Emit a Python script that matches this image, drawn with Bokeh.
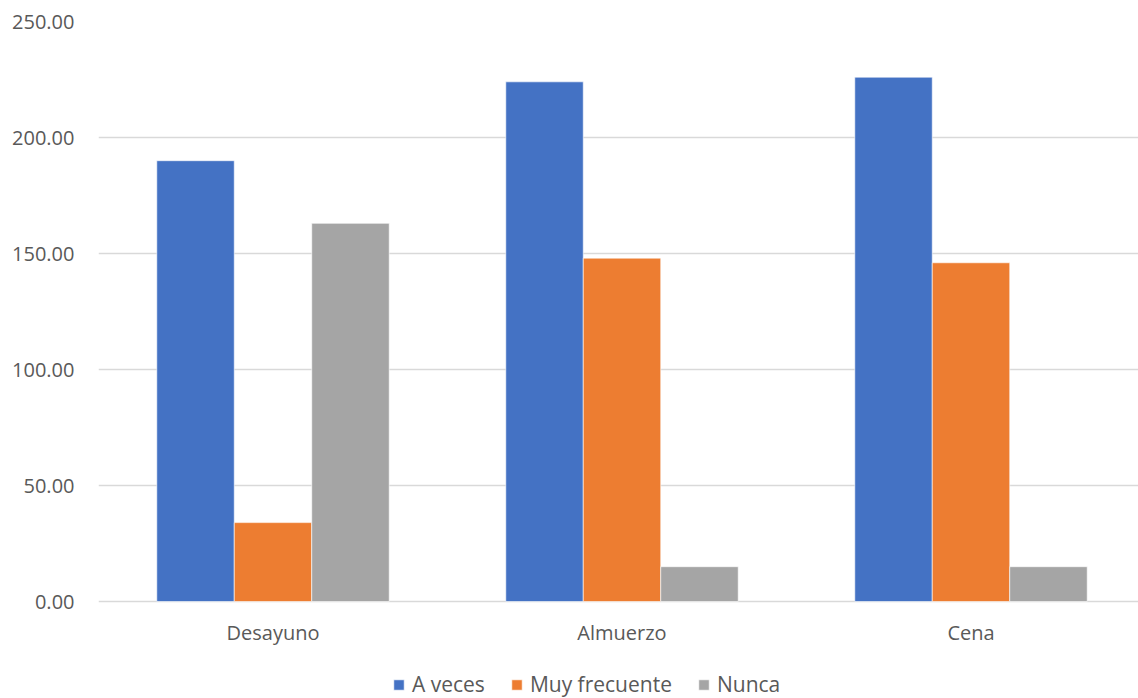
from bokeh.plotting import figure
from bokeh.models import (ColumnDataSource, FixedTicker, NumeralTickFormatter,
                          Range1d, Legend)
from bokeh.embed import file_html
from bokeh.resources import INLINE

# Meals and how often each is skipped / taken
categories = ["Desayuno", "Almuerzo", "Cena"]
series = ["A veces", "Muy frecuente", "Nunca"]
a_veces = [190, 224, 226]
muy_frecuente = [34, 148, 146]
nunca = [163, 15, 15]
y_ticks = [0, 50, 100, 150, 200, 250]

colors = ["#4472C4", "#ED7D31", "#A5A5A5"]
values = [a_veces, muy_frecuente, nunca]

FONT = "Open Sans"
TXT = "#595959"
GRID = "#D9D9D9"

centers = [i + 0.5 for i in range(len(categories))]
bar_w = 0.222
offsets = [-bar_w, 0.0, bar_w]

# the frame runs down to the page bottom so the legend can sit inside it;
# 250 units span 580 px, leaving 97 px below zero for labels and legend
PX_PER_UNIT = 580 / 250
y_start = -97 / PX_PER_UNIT

p = figure(frame_width=1040, frame_height=677,
           x_range=Range1d(0, 1040 / 349), y_range=Range1d(y_start, 250),
           output_backend="svg", toolbar_location=None,
           min_border_left=98, min_border_right=0, min_border_top=21,
           min_border_bottom=0)
p.outline_line_color = None
p.background_fill_color = "white"
p.border_fill_color = "white"

items = []
for name, vals, col, off in zip(series, values, colors, offsets):
    src = ColumnDataSource(dict(x=[c + off for c in centers], top=vals))
    r = p.vbar(x="x", top="top", width=bar_w, bottom=0, source=src,
               fill_color=col, line_color="white", line_width=0.6)
    items.append((name, [r]))

# y axis
p.yaxis.ticker = FixedTicker(ticks=y_ticks)
p.yaxis.formatter = NumeralTickFormatter(format="0.00")
p.yaxis.axis_line_color = None
p.yaxis.major_tick_line_color = None
p.yaxis.minor_tick_line_color = None
p.yaxis.major_label_text_font = FONT
p.yaxis.major_label_text_font_size = "20px"
p.yaxis.major_label_text_color = TXT
p.yaxis.major_label_standoff = 18

# x axis pinned at zero, category labels under the bars
p.xaxis.fixed_location = 0
p.xaxis.ticker = FixedTicker(ticks=centers)
p.xaxis.major_label_overrides = {c: n for c, n in zip(centers, categories)}
p.xaxis.axis_line_color = None
p.xaxis.major_tick_line_color = None
p.xaxis.minor_tick_line_color = None
p.xaxis.major_label_text_font = FONT
p.xaxis.major_label_text_font_size = "20px"
p.xaxis.major_label_text_color = TXT
p.xaxis.major_label_standoff = 11

p.xgrid.grid_line_color = None
p.ygrid.ticker = FixedTicker(ticks=y_ticks)
p.ygrid.grid_line_color = GRID
p.ygrid.grid_line_width = 1.3

legend = Legend(items=items, orientation="horizontal", location=(294, 0),
                label_text_font=FONT, label_text_font_size="21px",
                label_text_color=TXT, glyph_width=13, glyph_height=13,
                spacing=25, label_standoff=7, padding=0, margin=0,
                border_line_color=None, background_fill_alpha=0)
p.add_layout(legend, "center")

open("out.html", "w").write(file_html(p, INLINE))
